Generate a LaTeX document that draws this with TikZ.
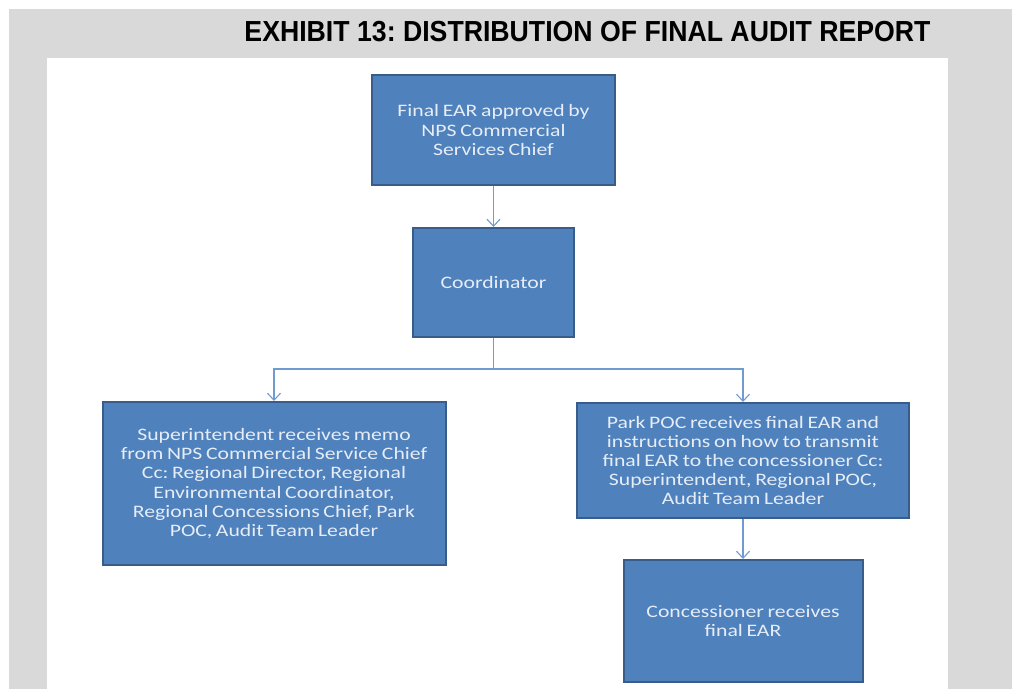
\documentclass[tikz,border=0pt]{standalone}
\usepackage{fontspec}
\usepackage{graphicx}
\usetikzlibrary{arrows.meta}
\newfontfamily\boxfont[FakeStretch=1.24,WordSpace=0.75]{Carlito}
\newfontfamily\titlefont{Liberation Sans}
\definecolor{bgray}{HTML}{D9D9D9}
\definecolor{boxfill}{HTML}{4F81BD}
\definecolor{boxline}{HTML}{385D8A}
\definecolor{boxtext}{HTML}{E6EDF7}
\definecolor{conn}{HTML}{6F9BD0}
\frenchspacing
\begin{document}
\begin{tikzpicture}[x=1pt,y=-1pt,
  flowbox/.style={draw=boxline,fill=boxfill,line width=2pt,text=boxtext,
    font=\boxfont\fontsize{17.5}{19.2}\selectfont,align=center,inner sep=0pt},
  link/.style={draw=conn,line width=1.3pt},
  arr/.style={link,-{Straight Barb[length=7pt,width=13pt,line width=1.1pt]}}]
\useasboundingbox (0,0) rectangle (1012,689);
\fill[bgray] (9,9) rectangle (1012,689);
\fill[white] (47,58) rectangle (948,689);
\node[anchor=base] (title) at (587.5,41)
  {\resizebox{686pt}{\height}{\titlefont\bfseries\fontsize{29}{29}\selectfont EXHIBIT 13: DISTRIBUTION OF FINAL AUDIT REPORT}};
\node[flowbox,minimum width=243pt,minimum height=110pt] (final) at (493.5,130)
  {Final EAR approved by\\NPS Commercial\\Services Chief};
\node[flowbox,minimum width=161pt,minimum height=109pt] (coord) at (493.5,282.5)
  {Coordinator};
\node[flowbox,minimum width=343pt,minimum height=163pt] (sup) at (274,483.5)
  {Superintendent receives memo\\from NPS Commercial Service Chief\\Cc: Regional Director, Regional\\Environmental Coordinator,\\Regional Concessions Chief, Park\\POC, Audit Team Leader};
\node[flowbox,minimum width=332pt,minimum height=115pt] (park) at (743,460.5)
  {Park POC receives final EAR and\\instructions on how to transmit\\final EAR to the concessioner Cc:\\Superintendent, Regional POC,\\Audit Team Leader};
\node[flowbox,minimum width=239pt,minimum height=122pt] (conc) at (743,621)
  {Concessioner receives\\final EAR};
\coordinate (split) at (493.5,369);
\draw[arr] (final) -- (coord);
\draw[link] (coord) -- (split);
\draw[arr] (split) -| (sup.north);
\draw[arr] (split) -| (park.north);
\draw[arr] (park) -- (conc);
\end{tikzpicture}
\end{document}
